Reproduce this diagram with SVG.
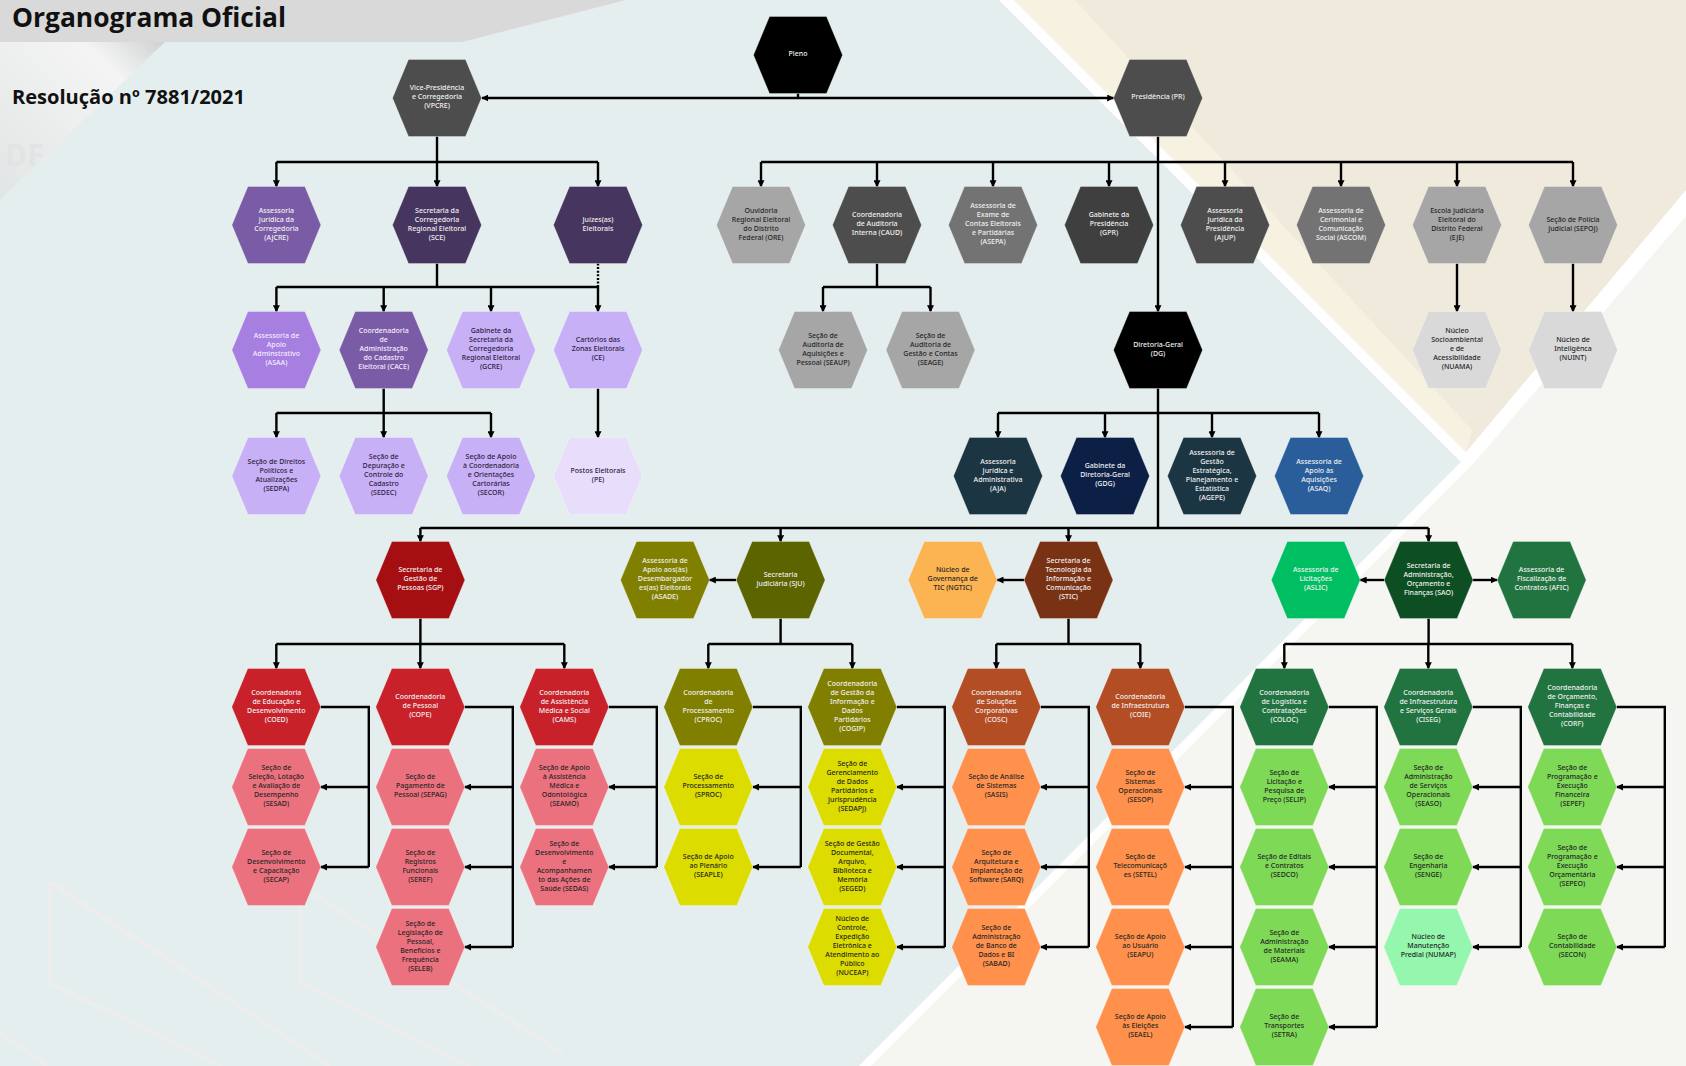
<svg xmlns="http://www.w3.org/2000/svg" xmlns:xlink="http://www.w3.org/1999/xlink" width="1686" height="1066" viewBox="0 0 1686 1066">
<style>
.t{font-family:"Noto Sans","Liberation Sans",sans-serif;font-size:7px;font-weight:500;text-anchor:middle;transform:translate(0px,-1.5px)}
.tw{fill:#f0f0f0}.td{fill:#262626}.tl{fill:#2c2340}.tp{fill:#f3ecff}
.k{fill:#000}.g0{fill:#3f3f3f}.g1{fill:#4d4d4d}.g2{fill:#737373}.g3{fill:#a6a6a6}.g4{fill:#d9d9d9}
.p1{fill:#7a5ca6}.p2{fill:#46355e}.p3{fill:#a67fe0}.p4{fill:#c8b0f6}.p5{fill:#e8defb}
.b1{fill:#1c3542}.b2{fill:#0c2046}.b3{fill:#2a5e9b}
.r1{fill:#a50f12}.r2{fill:#c8212a}.r3{fill:#ec717e}
.o1{fill:#817f00}.o2{fill:#5c6400}.o3{fill:#dcdc00}
.n1{fill:#fbb451}.n2{fill:#7a3215}.n3{fill:#b34d24}.n4{fill:#ff914d}
.e1{fill:#00bf63}.e2{fill:#0d4f23}.e3{fill:#217440}.e4{fill:#7ed957}.e5{fill:#94f7ad}
.c path{fill:none;stroke:#000;stroke-width:2.4}
.c .a{marker-end:url(#ar)}
.deco{fill:none;stroke:#ecedec;stroke-width:4}
</style>
<defs>
<polygon id="hx" points="-44.5,0 -28.5,-38.5 28.5,-38.5 44.5,0 28.5,38.5 -28.5,38.5" stroke="#fff" stroke-opacity="0.3" stroke-width="1"/>
<marker id="ar" viewBox="0 0 10 10" refX="9" refY="5" markerWidth="7" markerHeight="7" markerUnits="userSpaceOnUse" orient="auto"><path d="M0,0 L10,5 L0,10 z" fill="#000"/></marker>
<linearGradient id="gloss" x1="0" y1="1" x2="1" y2="0"><stop offset="0" stop-color="#e2e5e5"/><stop offset="0.75" stop-color="#f4f4f4"/><stop offset="1" stop-color="#cfd2d2"/></linearGradient>
</defs>
<g id="background">
<rect width="1686" height="1066" fill="#e5eeee"/>
<polygon points="999,0 1686,0 1686,1066 859,1066 1461,462" fill="#ffffff"/>
<polygon points="1014,0 1686,0 1686,190 1466,452" fill="#f0eadd"/>
<polygon points="1014,0 1075,0 1472,430 1466,452" fill="#f6f1e1"/>
<polygon points="1473,464 1686,216 1686,1066 871,1066" fill="#f5f5f2"/>
<polygon points="0,0 626,0 462,42 0,42" fill="#d9d9d9"/>
<polygon points="0,42 165,42 0,200" fill="url(#gloss)"/>
<text x="5" y="166" font-family="Open Sans, sans-serif" font-weight="bold" font-size="30" fill="#e1e4e4">DF</text>
<path class="deco" d="M50,882 V983 L222,1066 M50,882 L330,1066 M301,907 V983 L470,1066 M312,893 L562,1053 M0,1033 L47,1066"/>
<text x="12" y="26.5" font-family="Open Sans, sans-serif" font-weight="bold" font-size="26" fill="#111" textLength="274" lengthAdjust="spacingAndGlyphs">Organograma Oficial</text>
<text x="12" y="104" font-family="Open Sans, sans-serif" font-weight="bold" font-size="20" fill="#111" textLength="233" lengthAdjust="spacingAndGlyphs">Resolução nº 7881/2021</text>
</g>
<g id="connectors" class="c">
<path d="M798,93.5 V98"/>
<path class="a" d="M798,98 H482"/>
<path class="a" d="M798,98 H1113.5"/>
<path class="a" d="M437,136.5 V186.5"/>
<path d="M276.4,162 H598"/>
<path class="a" d="M276.4,162 V186.5"/>
<path class="a" d="M598,162 V186.5"/>
<path class="a" d="M1158,136.5 V311.5"/>
<path d="M761,162 H1573"/>
<path class="a" d="M761,162 V186.5"/>
<path class="a" d="M877,162 V186.5"/>
<path class="a" d="M993,162 V186.5"/>
<path class="a" d="M1109,162 V186.5"/>
<path class="a" d="M1225,162 V186.5"/>
<path class="a" d="M1341,162 V186.5"/>
<path class="a" d="M1457,162 V186.5"/>
<path class="a" d="M1573,162 V186.5"/>
<path d="M437,263.5 V287 M276.4,287 H598"/>
<path d="M598,263.5 V287" stroke-dasharray="2 1.6"/>
<path class="a" d="M276.4,287 V311.5"/>
<path class="a" d="M383.7,287 V311.5"/>
<path class="a" d="M491,287 V311.5"/>
<path class="a" d="M598,287 V311.5"/>
<path d="M877,263.5 V287 M823,287 H930.5"/>
<path class="a" d="M823,287 V311.5"/>
<path class="a" d="M930.5,287 V311.5"/>
<path class="a" d="M1457,263.5 V311.5"/>
<path class="a" d="M1573,263.5 V311.5"/>
<path d="M383.7,388.5 V413 M276.4,413 H491"/>
<path class="a" d="M276.4,413 V437.5"/>
<path class="a" d="M383.7,413 V437.5"/>
<path class="a" d="M491,413 V437.5"/>
<path class="a" d="M598,388.5 V437.5"/>
<path d="M1158,388.5 V528 M998,413 H1319"/>
<path class="a" d="M998,413 V437.5"/>
<path class="a" d="M1105,413 V437.5"/>
<path class="a" d="M1212,413 V437.5"/>
<path class="a" d="M1319,413 V437.5"/>
<path d="M420.4,528 H1428.6"/>
<path class="a" d="M420.4,528 V541.5"/>
<path class="a" d="M780.6,528 V541.5"/>
<path class="a" d="M1068.5,528 V541.5"/>
<path class="a" d="M1428.6,528 V541.5"/>
<path class="a" d="M736,580 H709.5"/>
<path class="a" d="M1024,580 H997.2"/>
<path class="a" d="M1384,580 H1360.3"/>
<path class="a" d="M1473,580 H1497"/>
<path d="M420.4,618.5 V644 M276.3,644 H564.3"/>
<path class="a" d="M276.3,644 V668.5"/>
<path class="a" d="M420.3,644 V668.5"/>
<path class="a" d="M564.3,644 V668.5"/>
<path d="M780.6,618.5 V644 M708.3,644 H852.3"/>
<path class="a" d="M708.3,644 V668.5"/>
<path class="a" d="M852.3,644 V668.5"/>
<path d="M1068.5,618.5 V644 M996.3,644 H1140.3"/>
<path class="a" d="M996.3,644 V668.5"/>
<path class="a" d="M1140.3,644 V668.5"/>
<path d="M1428.6,618.5 V644 M1284.3,644 H1572.3"/>
<path class="a" d="M1284.3,644 V668.5"/>
<path class="a" d="M1428.3,644 V668.5"/>
<path class="a" d="M1572.3,644 V668.5"/>
<path d="M320.8,707 H368.8 V867"/>
<path class="a" d="M368.8,787 H320.8"/><path class="a" d="M368.8,867 H320.8"/>
<path d="M464.8,707 H512.8 V947"/>
<path class="a" d="M512.8,787 H464.8"/><path class="a" d="M512.8,867 H464.8"/><path class="a" d="M512.8,947 H464.8"/>
<path d="M608.8,707 H656.8 V867"/>
<path class="a" d="M656.8,787 H608.8"/><path class="a" d="M656.8,867 H608.8"/>
<path d="M752.8,707 H800.8 V867"/>
<path class="a" d="M800.8,787 H752.8"/><path class="a" d="M800.8,867 H752.8"/>
<path d="M896.8,707 H944.8 V947"/>
<path class="a" d="M944.8,787 H896.8"/><path class="a" d="M944.8,867 H896.8"/><path class="a" d="M944.8,947 H896.8"/>
<path d="M1040.8,707 H1088.8 V947"/>
<path class="a" d="M1088.8,787 H1040.8"/><path class="a" d="M1088.8,867 H1040.8"/><path class="a" d="M1088.8,947 H1040.8"/>
<path d="M1184.8,707 H1232.8 V1027"/>
<path class="a" d="M1232.8,787 H1184.8"/><path class="a" d="M1232.8,867 H1184.8"/><path class="a" d="M1232.8,947 H1184.8"/><path class="a" d="M1232.8,1027 H1184.8"/>
<path d="M1328.8,707 H1376.8 V1027"/>
<path class="a" d="M1376.8,787 H1328.8"/><path class="a" d="M1376.8,867 H1328.8"/><path class="a" d="M1376.8,947 H1328.8"/><path class="a" d="M1376.8,1027 H1328.8"/>
<path d="M1472.8,707 H1520.8 V947"/>
<path class="a" d="M1520.8,787 H1472.8"/><path class="a" d="M1520.8,867 H1472.8"/><path class="a" d="M1520.8,947 H1472.8"/>
<path d="M1616.8,707 H1664.8 V947"/>
<path class="a" d="M1664.8,787 H1616.8"/><path class="a" d="M1664.8,867 H1616.8"/><path class="a" d="M1664.8,947 H1616.8"/>
</g>
<g id="nodes">
<g id="pleno" transform="translate(798,55)"><use href="#hx" class="k"/><text class="t tw"><tspan x="0" y="2.5">Pleno</tspan></text></g>
<g id="vpcre" transform="translate(437,98)"><use href="#hx" class="g1"/><text class="t tw"><tspan x="0" y="-6.5">Vice-Presidência</tspan><tspan x="0" y="2.5">e Corregedoria</tspan><tspan x="0" y="11.5">(VPCRE)</tspan></text></g>
<g id="pr" transform="translate(1158,98)"><use href="#hx" class="g1"/><text class="t tw"><tspan x="0" y="2.5">Presidência (PR)</tspan></text></g>

<g id="ajcre" transform="translate(276.4,225)"><use href="#hx" class="p1"/><text class="t tw"><tspan x="0" y="-11">Assessoria</tspan><tspan x="0" y="-2">Jurídica da</tspan><tspan x="0" y="7">Corregedoria</tspan><tspan x="0" y="16">(AJCRE)</tspan></text></g>
<g id="sce" transform="translate(437,225)"><use href="#hx" class="p2"/><text class="t tw"><tspan x="0" y="-11">Secretaria da</tspan><tspan x="0" y="-2">Corregedoria</tspan><tspan x="0" y="7">Regional Eleitoral</tspan><tspan x="0" y="16">(SCE)</tspan></text></g>
<g id="juizes" transform="translate(598,225)"><use href="#hx" class="p2"/><text class="t tw"><tspan x="0" y="-2">Juízes(as)</tspan><tspan x="0" y="7">Eleitorais</tspan></text></g>
<g id="ore" transform="translate(761,225)"><use href="#hx" class="g3"/><text class="t td"><tspan x="0" y="-11">Ouvidoria</tspan><tspan x="0" y="-2">Regional Eleitoral</tspan><tspan x="0" y="7">do Distrito</tspan><tspan x="0" y="16">Federal (ORE)</tspan></text></g>
<g id="caud" transform="translate(877,225)"><use href="#hx" class="g1"/><text class="t tw"><tspan x="0" y="-6.5">Coordenadoria</tspan><tspan x="0" y="2.5">de Auditoria</tspan><tspan x="0" y="11.5">Interna (CAUD)</tspan></text></g>
<g id="asepa" transform="translate(993,225)"><use href="#hx" class="g2"/><text class="t tw"><tspan x="0" y="-15.5">Assessoria de</tspan><tspan x="0" y="-6.5">Exame de</tspan><tspan x="0" y="2.5">Contas Eleitorais</tspan><tspan x="0" y="11.5">e Partidárias</tspan><tspan x="0" y="20.5">(ASEPA)</tspan></text></g>
<g id="gpr" transform="translate(1109,225)"><use href="#hx" class="g0"/><text class="t tw"><tspan x="0" y="-6.5">Gabinete da</tspan><tspan x="0" y="2.5">Presidência</tspan><tspan x="0" y="11.5">(GPR)</tspan></text></g>
<g id="ajup" transform="translate(1225,225)"><use href="#hx" class="g1"/><text class="t tw"><tspan x="0" y="-11">Assessoria</tspan><tspan x="0" y="-2">Jurídica da</tspan><tspan x="0" y="7">Presidência</tspan><tspan x="0" y="16">(AJUP)</tspan></text></g>
<g id="ascom" transform="translate(1341,225)"><use href="#hx" class="g2"/><text class="t tw"><tspan x="0" y="-11">Assessoria de</tspan><tspan x="0" y="-2">Cerimonial e</tspan><tspan x="0" y="7">Comunicação</tspan><tspan x="0" y="16">Social (ASCOM)</tspan></text></g>
<g id="eje" transform="translate(1457,225)"><use href="#hx" class="g3"/><text class="t td"><tspan x="0" y="-11">Escola Judiciária</tspan><tspan x="0" y="-2">Eleitoral do</tspan><tspan x="0" y="7">Distrito Federal</tspan><tspan x="0" y="16">(EJE)</tspan></text></g>
<g id="sepoj" transform="translate(1573,225)"><use href="#hx" class="g3"/><text class="t td"><tspan x="0" y="-2">Seção de Polícia</tspan><tspan x="0" y="7">Judicial (SEPOJ)</tspan></text></g>

<g id="asaa" transform="translate(276.4,350)"><use href="#hx" class="p3"/><text class="t tp"><tspan x="0" y="-11">Assessoria de</tspan><tspan x="0" y="-2">Apoio</tspan><tspan x="0" y="7">Adminstrativo</tspan><tspan x="0" y="16">(ASAA)</tspan></text></g>
<g id="cace" transform="translate(383.7,350)"><use href="#hx" class="p1"/><text class="t tp"><tspan x="0" y="-15.5">Coordenadoria</tspan><tspan x="0" y="-6.5">de</tspan><tspan x="0" y="2.5">Administração</tspan><tspan x="0" y="11.5">do Cadastro</tspan><tspan x="0" y="20.5">Eleitoral (CACE)</tspan></text></g>
<g id="gcre" transform="translate(491,350)"><use href="#hx" class="p4"/><text class="t tl"><tspan x="0" y="-15.5">Gabinete da</tspan><tspan x="0" y="-6.5">Secretaria da</tspan><tspan x="0" y="2.5">Corregedoria</tspan><tspan x="0" y="11.5">Regional Eleitoral</tspan><tspan x="0" y="20.5">(GCRE)</tspan></text></g>
<g id="ce" transform="translate(598,350)"><use href="#hx" class="p4"/><text class="t tl"><tspan x="0" y="-6.5">Cartórios das</tspan><tspan x="0" y="2.5">Zonas Eleitorais</tspan><tspan x="0" y="11.5">(CE)</tspan></text></g>
<g id="seaup" transform="translate(823,350)"><use href="#hx" class="g3"/><text class="t td"><tspan x="0" y="-11">Seção de</tspan><tspan x="0" y="-2">Auditoria de</tspan><tspan x="0" y="7">Aquisições e</tspan><tspan x="0" y="16">Pessoal (SEAUP)</tspan></text></g>
<g id="seage" transform="translate(930.5,350)"><use href="#hx" class="g3"/><text class="t td"><tspan x="0" y="-11">Seção de</tspan><tspan x="0" y="-2">Auditoria de</tspan><tspan x="0" y="7">Gestão e Contas</tspan><tspan x="0" y="16">(SEAGE)</tspan></text></g>
<g id="dg" transform="translate(1158,350)"><use href="#hx" class="k"/><text class="t tw"><tspan x="0" y="-2">Diretoria-Geral</tspan><tspan x="0" y="7">(DG)</tspan></text></g>
<g id="nuama" transform="translate(1457,350)"><use href="#hx" class="g4"/><text class="t td"><tspan x="0" y="-15.5">Núcleo</tspan><tspan x="0" y="-6.5">Socioambiental</tspan><tspan x="0" y="2.5">e de</tspan><tspan x="0" y="11.5">Acessibilidade</tspan><tspan x="0" y="20.5">(NUAMA)</tspan></text></g>
<g id="nuint" transform="translate(1573,350)"><use href="#hx" class="g4"/><text class="t td"><tspan x="0" y="-6.5">Núcleo de</tspan><tspan x="0" y="2.5">Inteligênca</tspan><tspan x="0" y="11.5">(NUINT)</tspan></text></g>

<g id="sedpa" transform="translate(276.4,476)"><use href="#hx" class="p4"/><text class="t tl"><tspan x="0" y="-11">Seção de Direitos</tspan><tspan x="0" y="-2">Políticos e</tspan><tspan x="0" y="7">Atualizações</tspan><tspan x="0" y="16">(SEDPA)</tspan></text></g>
<g id="sedec" transform="translate(383.7,476)"><use href="#hx" class="p4"/><text class="t tl"><tspan x="0" y="-15.5">Seção de</tspan><tspan x="0" y="-6.5">Depuração e</tspan><tspan x="0" y="2.5">Controle do</tspan><tspan x="0" y="11.5">Cadastro</tspan><tspan x="0" y="20.5">(SEDEC)</tspan></text></g>
<g id="secor" transform="translate(491,476)"><use href="#hx" class="p4"/><text class="t tl"><tspan x="0" y="-15.5">Seção de Apoio</tspan><tspan x="0" y="-6.5">à Coordenadoria</tspan><tspan x="0" y="2.5">e Orientações</tspan><tspan x="0" y="11.5">Cartorárias</tspan><tspan x="0" y="20.5">(SECOR)</tspan></text></g>
<g id="pe" transform="translate(598,476)"><use href="#hx" class="p5"/><text class="t tl"><tspan x="0" y="-2">Postos Eleitorais</tspan><tspan x="0" y="7">(PE)</tspan></text></g>
<g id="aja" transform="translate(998,476)"><use href="#hx" class="b1"/><text class="t tw"><tspan x="0" y="-11">Assessoria</tspan><tspan x="0" y="-2">Jurídica e</tspan><tspan x="0" y="7">Administrativa</tspan><tspan x="0" y="16">(AJA)</tspan></text></g>
<g id="gdg" transform="translate(1105,476)"><use href="#hx" class="b2"/><text class="t tw"><tspan x="0" y="-6.5">Gabinete da</tspan><tspan x="0" y="2.5">Diretoria-Geral</tspan><tspan x="0" y="11.5">(GDG)</tspan></text></g>
<g id="agepe" transform="translate(1212,476)"><use href="#hx" class="b1"/><text class="t tw"><tspan x="0" y="-20">Assessoria de</tspan><tspan x="0" y="-11">Gestão</tspan><tspan x="0" y="-2">Estratégica,</tspan><tspan x="0" y="7">Planejamento e</tspan><tspan x="0" y="16">Estatística</tspan><tspan x="0" y="25">(AGEPE)</tspan></text></g>
<g id="asaq" transform="translate(1319,476)"><use href="#hx" class="b3"/><text class="t tw"><tspan x="0" y="-11">Assessoria de</tspan><tspan x="0" y="-2">Apoio às</tspan><tspan x="0" y="7">Aquisições</tspan><tspan x="0" y="16">(ASAQ)</tspan></text></g>

<g id="sgp" transform="translate(420.4,580)"><use href="#hx" class="r1"/><text class="t tw"><tspan x="0" y="-6.5">Secretaria de</tspan><tspan x="0" y="2.5">Gestão de</tspan><tspan x="0" y="11.5">Pessoas (SGP)</tspan></text></g>
<g id="asade" transform="translate(665,580)"><use href="#hx" class="o1"/><text class="t tw"><tspan x="0" y="-15.5">Assessoria de</tspan><tspan x="0" y="-6.5">Apoio aos(às)</tspan><tspan x="0" y="2.5">Desembargador</tspan><tspan x="0" y="11.5">es(as) Eleitorais</tspan><tspan x="0" y="20.5">(ASADE)</tspan></text></g>
<g id="sju" transform="translate(780.6,580)"><use href="#hx" class="o2"/><text class="t tw"><tspan x="0" y="-2">Secretaria</tspan><tspan x="0" y="7">Judiciária (SJU)</tspan></text></g>
<g id="ngtic" transform="translate(952.7,580)"><use href="#hx" class="n1"/><text class="t td"><tspan x="0" y="-6.5">Núcleo de</tspan><tspan x="0" y="2.5">Governança de</tspan><tspan x="0" y="11.5">TIC (NGTIC)</tspan></text></g>
<g id="stic" transform="translate(1068.5,580)"><use href="#hx" class="n2"/><text class="t tw"><tspan x="0" y="-15.5">Secretaria de</tspan><tspan x="0" y="-6.5">Tecnologia da</tspan><tspan x="0" y="2.5">Informação e</tspan><tspan x="0" y="11.5">Comunicação</tspan><tspan x="0" y="20.5">(STIC)</tspan></text></g>
<g id="aslic" transform="translate(1315.8,580)"><use href="#hx" class="e1"/><text class="t tw"><tspan x="0" y="-6.5">Assessoria de</tspan><tspan x="0" y="2.5">Licitações</tspan><tspan x="0" y="11.5">(ASLIC)</tspan></text></g>
<g id="sao" transform="translate(1428.6,580)"><use href="#hx" class="e2"/><text class="t tw"><tspan x="0" y="-11">Secretaria de</tspan><tspan x="0" y="-2">Administração,</tspan><tspan x="0" y="7">Orçamento e</tspan><tspan x="0" y="16">Finanças (SAO)</tspan></text></g>
<g id="afic" transform="translate(1541.6,580)"><use href="#hx" class="e3"/><text class="t tw"><tspan x="0" y="-6.5">Assessoria de</tspan><tspan x="0" y="2.5">Fiscalização de</tspan><tspan x="0" y="11.5">Contratos (AFIC)</tspan></text></g>

<g id="coed" transform="translate(276.3,707)"><use href="#hx" class="r2"/><text class="t tw"><tspan x="0" y="-11">Coordenadoria</tspan><tspan x="0" y="-2">de Educação e</tspan><tspan x="0" y="7">Desenvolvimento</tspan><tspan x="0" y="16">(COED)</tspan></text></g>
<g id="sesad" transform="translate(276.3,787)"><use href="#hx" class="r3"/><text class="t td"><tspan x="0" y="-15.5">Seção de</tspan><tspan x="0" y="-6.5">Seleção, Lotação</tspan><tspan x="0" y="2.5">e Avaliação de</tspan><tspan x="0" y="11.5">Desempenho</tspan><tspan x="0" y="20.5">(SESAD)</tspan></text></g>
<g id="secap" transform="translate(276.3,867)"><use href="#hx" class="r3"/><text class="t td"><tspan x="0" y="-11">Seção de</tspan><tspan x="0" y="-2">Desenvolvimento</tspan><tspan x="0" y="7">e Capacitação</tspan><tspan x="0" y="16">(SECAP)</tspan></text></g>

<g id="cope" transform="translate(420.3,707)"><use href="#hx" class="r2"/><text class="t tw"><tspan x="0" y="-6.5">Coordenadoria</tspan><tspan x="0" y="2.5">de Pessoal</tspan><tspan x="0" y="11.5">(COPE)</tspan></text></g>
<g id="sepag" transform="translate(420.3,787)"><use href="#hx" class="r3"/><text class="t td"><tspan x="0" y="-6.5">Seção de</tspan><tspan x="0" y="2.5">Pagamento de</tspan><tspan x="0" y="11.5">Pessoal (SEPAG)</tspan></text></g>
<g id="seref" transform="translate(420.3,867)"><use href="#hx" class="r3"/><text class="t td"><tspan x="0" y="-11">Seção de</tspan><tspan x="0" y="-2">Registros</tspan><tspan x="0" y="7">Funcionais</tspan><tspan x="0" y="16">(SEREF)</tspan></text></g>
<g id="seleb" transform="translate(420.3,947)"><use href="#hx" class="r3"/><text class="t td"><tspan x="0" y="-20">Seção de</tspan><tspan x="0" y="-11">Legislação de</tspan><tspan x="0" y="-2">Pessoal,</tspan><tspan x="0" y="7">Benefícios e</tspan><tspan x="0" y="16">Frequência</tspan><tspan x="0" y="25">(SELEB)</tspan></text></g>

<g id="cams" transform="translate(564.3,707)"><use href="#hx" class="r2"/><text class="t tw"><tspan x="0" y="-11">Coordenadoria</tspan><tspan x="0" y="-2">de Assistência</tspan><tspan x="0" y="7">Médica e Social</tspan><tspan x="0" y="16">(CAMS)</tspan></text></g>
<g id="seamo" transform="translate(564.3,787)"><use href="#hx" class="r3"/><text class="t td"><tspan x="0" y="-15.5">Seção de Apoio</tspan><tspan x="0" y="-6.5">à Assistência</tspan><tspan x="0" y="2.5">Médica e</tspan><tspan x="0" y="11.5">Odontológica</tspan><tspan x="0" y="20.5">(SEAMO)</tspan></text></g>
<g id="sedas" transform="translate(564.3,867)"><use href="#hx" class="r3"/><text class="t td"><tspan x="0" y="-20">Seção de</tspan><tspan x="0" y="-11">Desenvolvimento</tspan><tspan x="0" y="-2">e</tspan><tspan x="0" y="7">Acompanhamen</tspan><tspan x="0" y="16">to das Ações de</tspan><tspan x="0" y="25">Saúde (SEDAS)</tspan></text></g>

<g id="cproc" transform="translate(708.3,707)"><use href="#hx" class="o1"/><text class="t tw"><tspan x="0" y="-11">Coordenadoria</tspan><tspan x="0" y="-2">de</tspan><tspan x="0" y="7">Processamento</tspan><tspan x="0" y="16">(CPROC)</tspan></text></g>
<g id="sproc" transform="translate(708.3,787)"><use href="#hx" class="o3"/><text class="t td"><tspan x="0" y="-6.5">Seção de</tspan><tspan x="0" y="2.5">Processamento</tspan><tspan x="0" y="11.5">(SPROC)</tspan></text></g>
<g id="seaple" transform="translate(708.3,867)"><use href="#hx" class="o3"/><text class="t td"><tspan x="0" y="-6.5">Seção de Apoio</tspan><tspan x="0" y="2.5">ao Plenário</tspan><tspan x="0" y="11.5">(SEAPLE)</tspan></text></g>

<g id="cogip" transform="translate(852.3,707)"><use href="#hx" class="o1"/><text class="t tw"><tspan x="0" y="-20">Coordenadoria</tspan><tspan x="0" y="-11">de Gestão da</tspan><tspan x="0" y="-2">Informação e</tspan><tspan x="0" y="7">Dados</tspan><tspan x="0" y="16">Partidários</tspan><tspan x="0" y="25">(COGIP)</tspan></text></g>
<g id="sedapj" transform="translate(852.3,787)"><use href="#hx" class="o3"/><text class="t td"><tspan x="0" y="-20">Seção de</tspan><tspan x="0" y="-11">Gerenciamento</tspan><tspan x="0" y="-2">de Dados</tspan><tspan x="0" y="7">Partidários e</tspan><tspan x="0" y="16">Jurisprudência</tspan><tspan x="0" y="25">(SEDAPJ)</tspan></text></g>
<g id="seged" transform="translate(852.3,867)"><use href="#hx" class="o3"/><text class="t td"><tspan x="0" y="-20">Seção de Gestão</tspan><tspan x="0" y="-11">Documental,</tspan><tspan x="0" y="-2">Arquivo,</tspan><tspan x="0" y="7">Biblioteca e</tspan><tspan x="0" y="16">Memória</tspan><tspan x="0" y="25">(SEGED)</tspan></text></g>
<g id="nuceap" transform="translate(852.3,947)"><use href="#hx" class="o3"/><text class="t td"><tspan x="0" y="-24.5">Núcleo de</tspan><tspan x="0" y="-15.5">Controle,</tspan><tspan x="0" y="-6.5">Expedição</tspan><tspan x="0" y="2.5">Eletrônica e</tspan><tspan x="0" y="11.5">Atendimento ao</tspan><tspan x="0" y="20.5">Público</tspan><tspan x="0" y="29.5">(NUCEAP)</tspan></text></g>

<g id="cosc" transform="translate(996.3,707)"><use href="#hx" class="n3"/><text class="t tw"><tspan x="0" y="-11">Coordenadoria</tspan><tspan x="0" y="-2">de Soluções</tspan><tspan x="0" y="7">Corporativas</tspan><tspan x="0" y="16">(COSC)</tspan></text></g>
<g id="sasis" transform="translate(996.3,787)"><use href="#hx" class="n4"/><text class="t td"><tspan x="0" y="-6.5">Seção de Análise</tspan><tspan x="0" y="2.5">de Sistemas</tspan><tspan x="0" y="11.5">(SASIS)</tspan></text></g>
<g id="sarq" transform="translate(996.3,867)"><use href="#hx" class="n4"/><text class="t td"><tspan x="0" y="-11">Seção de</tspan><tspan x="0" y="-2">Arquitetura e</tspan><tspan x="0" y="7">Implantação de</tspan><tspan x="0" y="16">Software (SARQ)</tspan></text></g>
<g id="sabad" transform="translate(996.3,947)"><use href="#hx" class="n4"/><text class="t td"><tspan x="0" y="-15.5">Seção de</tspan><tspan x="0" y="-6.5">Administração</tspan><tspan x="0" y="2.5">de Banco de</tspan><tspan x="0" y="11.5">Dados e BI</tspan><tspan x="0" y="20.5">(SABAD)</tspan></text></g>

<g id="coie" transform="translate(1140.3,707)"><use href="#hx" class="n3"/><text class="t tw"><tspan x="0" y="-6.5">Coordenadoria</tspan><tspan x="0" y="2.5">de Infraestrutura</tspan><tspan x="0" y="11.5">(COIE)</tspan></text></g>
<g id="sesop" transform="translate(1140.3,787)"><use href="#hx" class="n4"/><text class="t td"><tspan x="0" y="-11">Seção de</tspan><tspan x="0" y="-2">Sistemas</tspan><tspan x="0" y="7">Operacionais</tspan><tspan x="0" y="16">(SESOP)</tspan></text></g>
<g id="setel" transform="translate(1140.3,867)"><use href="#hx" class="n4"/><text class="t td"><tspan x="0" y="-6.5">Seção de</tspan><tspan x="0" y="2.5">Telecomunicaçõ</tspan><tspan x="0" y="11.5">es (SETEL)</tspan></text></g>
<g id="seapu" transform="translate(1140.3,947)"><use href="#hx" class="n4"/><text class="t td"><tspan x="0" y="-6.5">Seção de Apoio</tspan><tspan x="0" y="2.5">ao Usuário</tspan><tspan x="0" y="11.5">(SEAPU)</tspan></text></g>
<g id="seael" transform="translate(1140.3,1027)"><use href="#hx" class="n4"/><text class="t td"><tspan x="0" y="-6.5">Seção de Apoio</tspan><tspan x="0" y="2.5">às Eleições</tspan><tspan x="0" y="11.5">(SEAEL)</tspan></text></g>

<g id="coloc" transform="translate(1284.3,707)"><use href="#hx" class="e3"/><text class="t tw"><tspan x="0" y="-11">Coordenadoria</tspan><tspan x="0" y="-2">de Logística e</tspan><tspan x="0" y="7">Contratações</tspan><tspan x="0" y="16">(COLOC)</tspan></text></g>
<g id="selip" transform="translate(1284.3,787)"><use href="#hx" class="e4"/><text class="t td"><tspan x="0" y="-11">Seção de</tspan><tspan x="0" y="-2">Licitação e</tspan><tspan x="0" y="7">Pesquisa de</tspan><tspan x="0" y="16">Preço (SELIP)</tspan></text></g>
<g id="sedco" transform="translate(1284.3,867)"><use href="#hx" class="e4"/><text class="t td"><tspan x="0" y="-6.5">Seção de Editais</tspan><tspan x="0" y="2.5">e Contratos</tspan><tspan x="0" y="11.5">(SEDCO)</tspan></text></g>
<g id="seama" transform="translate(1284.3,947)"><use href="#hx" class="e4"/><text class="t td"><tspan x="0" y="-11">Seção de</tspan><tspan x="0" y="-2">Administração</tspan><tspan x="0" y="7">de Materiais</tspan><tspan x="0" y="16">(SEAMA)</tspan></text></g>
<g id="setra" transform="translate(1284.3,1027)"><use href="#hx" class="e4"/><text class="t td"><tspan x="0" y="-6.5">Seção de</tspan><tspan x="0" y="2.5">Transportes</tspan><tspan x="0" y="11.5">(SETRA)</tspan></text></g>

<g id="ciseg" transform="translate(1428.3,707)"><use href="#hx" class="e3"/><text class="t tw"><tspan x="0" y="-11">Coordenadoria</tspan><tspan x="0" y="-2">de Infraestrutura</tspan><tspan x="0" y="7">e Serviços Gerais</tspan><tspan x="0" y="16">(CISEG)</tspan></text></g>
<g id="seaso" transform="translate(1428.3,787)"><use href="#hx" class="e4"/><text class="t td"><tspan x="0" y="-15.5">Seção de</tspan><tspan x="0" y="-6.5">Administração</tspan><tspan x="0" y="2.5">de Serviços</tspan><tspan x="0" y="11.5">Operacionais</tspan><tspan x="0" y="20.5">(SEASO)</tspan></text></g>
<g id="senge" transform="translate(1428.3,867)"><use href="#hx" class="e4"/><text class="t td"><tspan x="0" y="-6.5">Seção de</tspan><tspan x="0" y="2.5">Engenharia</tspan><tspan x="0" y="11.5">(SENGE)</tspan></text></g>
<g id="numap" transform="translate(1428.3,947)"><use href="#hx" class="e5"/><text class="t td"><tspan x="0" y="-6.5">Núcleo de</tspan><tspan x="0" y="2.5">Manutenção</tspan><tspan x="0" y="11.5">Predial (NUMAP)</tspan></text></g>

<g id="corf" transform="translate(1572.3,707)"><use href="#hx" class="e3"/><text class="t tw"><tspan x="0" y="-15.5">Coordenadoria</tspan><tspan x="0" y="-6.5">de Orçamento,</tspan><tspan x="0" y="2.5">Finanças e</tspan><tspan x="0" y="11.5">Contabilidade</tspan><tspan x="0" y="20.5">(CORF)</tspan></text></g>
<g id="sepef" transform="translate(1572.3,787)"><use href="#hx" class="e4"/><text class="t td"><tspan x="0" y="-15.5">Seção de</tspan><tspan x="0" y="-6.5">Programação e</tspan><tspan x="0" y="2.5">Execução</tspan><tspan x="0" y="11.5">Financeira</tspan><tspan x="0" y="20.5">(SEPEF)</tspan></text></g>
<g id="sepeo" transform="translate(1572.3,867)"><use href="#hx" class="e4"/><text class="t td"><tspan x="0" y="-15.5">Seção de</tspan><tspan x="0" y="-6.5">Programação e</tspan><tspan x="0" y="2.5">Execução</tspan><tspan x="0" y="11.5">Orçamentária</tspan><tspan x="0" y="20.5">(SEPEO)</tspan></text></g>
<g id="secon" transform="translate(1572.3,947)"><use href="#hx" class="e4"/><text class="t td"><tspan x="0" y="-6.5">Seção de</tspan><tspan x="0" y="2.5">Contabilidade</tspan><tspan x="0" y="11.5">(SECON)</tspan></text></g>
</g>
</svg>
